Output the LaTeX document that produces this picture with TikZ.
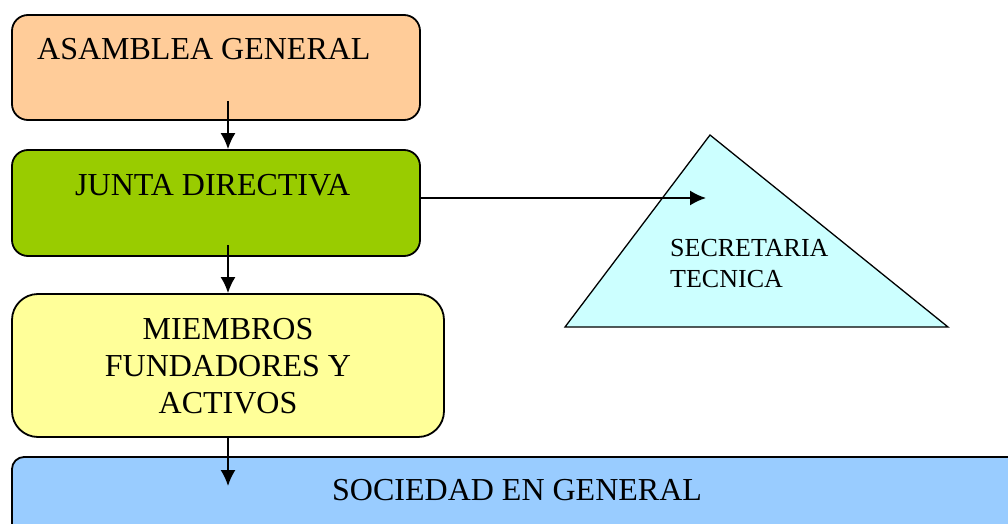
\documentclass[tikz,border=0pt]{standalone}
\usepackage{fontspec}
\setmainfont{Liberation Serif}
\usetikzlibrary{arrows.meta}
\definecolor{naranja}{HTML}{FFCC99}
\definecolor{verde}{HTML}{99CC00}
\definecolor{amarillo}{HTML}{FFFF99}
\definecolor{azul}{HTML}{99CCFF}
\definecolor{celeste}{HTML}{CCFFFF}
\begin{document}
\begin{tikzpicture}[x=1pt,y=-1pt,
    caja/.style={draw,line width=1.8pt,rounded corners=16pt,inner sep=0pt},
    texto/.style={inner sep=0pt,font=\fontsize{32}{37}\selectfont},
    flecha/.style={line width=1.8pt,-{Latex[length=16pt,width=15pt]}}]
                      \useasboundingbox (0,0) rectangle (1008,524);
                      \node[caja,fill=naranja,minimum width=408pt,minimum height=105pt](asamblea)at(216,67.5){};
                      \node[caja,fill=verde,minimum width=408pt,minimum height=106pt](junta)at(216,203){};
                      \node[caja,fill=amarillo,rounded corners=26pt,minimum width=432pt,minimum height=143pt](miembros)at(228,365.5){};
                      \node[caja,fill=azul,rounded corners=12pt,minimum width=1028pt,minimum height=103pt](sociedad)at(526,508.5){};
                      \filldraw[fill=celeste,line width=1.3pt,line join=miter] (565,327) coordinate(tizq) -- (710,135) coordinate(tsup) -- (948,327) coordinate(tder) -- cycle;
                      \node[texto,anchor=base west](asamblea-t)at(37,60){ASAMBLEA GENERAL};
                      \node[texto,anchor=base west](junta-t)at(75,195){JUNTA DIRECTIVA};
                      \node[texto,align=center](miembros-t)at(228,366){MIEMBROS\\FUNDADORES Y\\ACTIVOS};
                      \node[texto,anchor=base west](sociedad-t)at(332,500){SOCIEDAD EN GENERAL};
                      \node[texto,anchor=base west,align=left,font=\fontsize{26}{31}\selectfont](secretaria)at(670,287){SECRETARIA\\TECNICA};
                      \coordinate (a1) at (228,101);
                      \coordinate (a2) at (228,245);
                      \coordinate (a3) at (228,486);
                      \coordinate (a4) at (706,198);
                      \draw[flecha] (a1) -- (a1 |- junta.north);
                      \draw[flecha] (a2) -- (a2 |- miembros.north);
                      \draw[flecha] (miembros.south) -- (a3);
                      \draw[flecha] (a4 -| junta.east) -- (a4);
                  \end{tikzpicture}
\end{document}
